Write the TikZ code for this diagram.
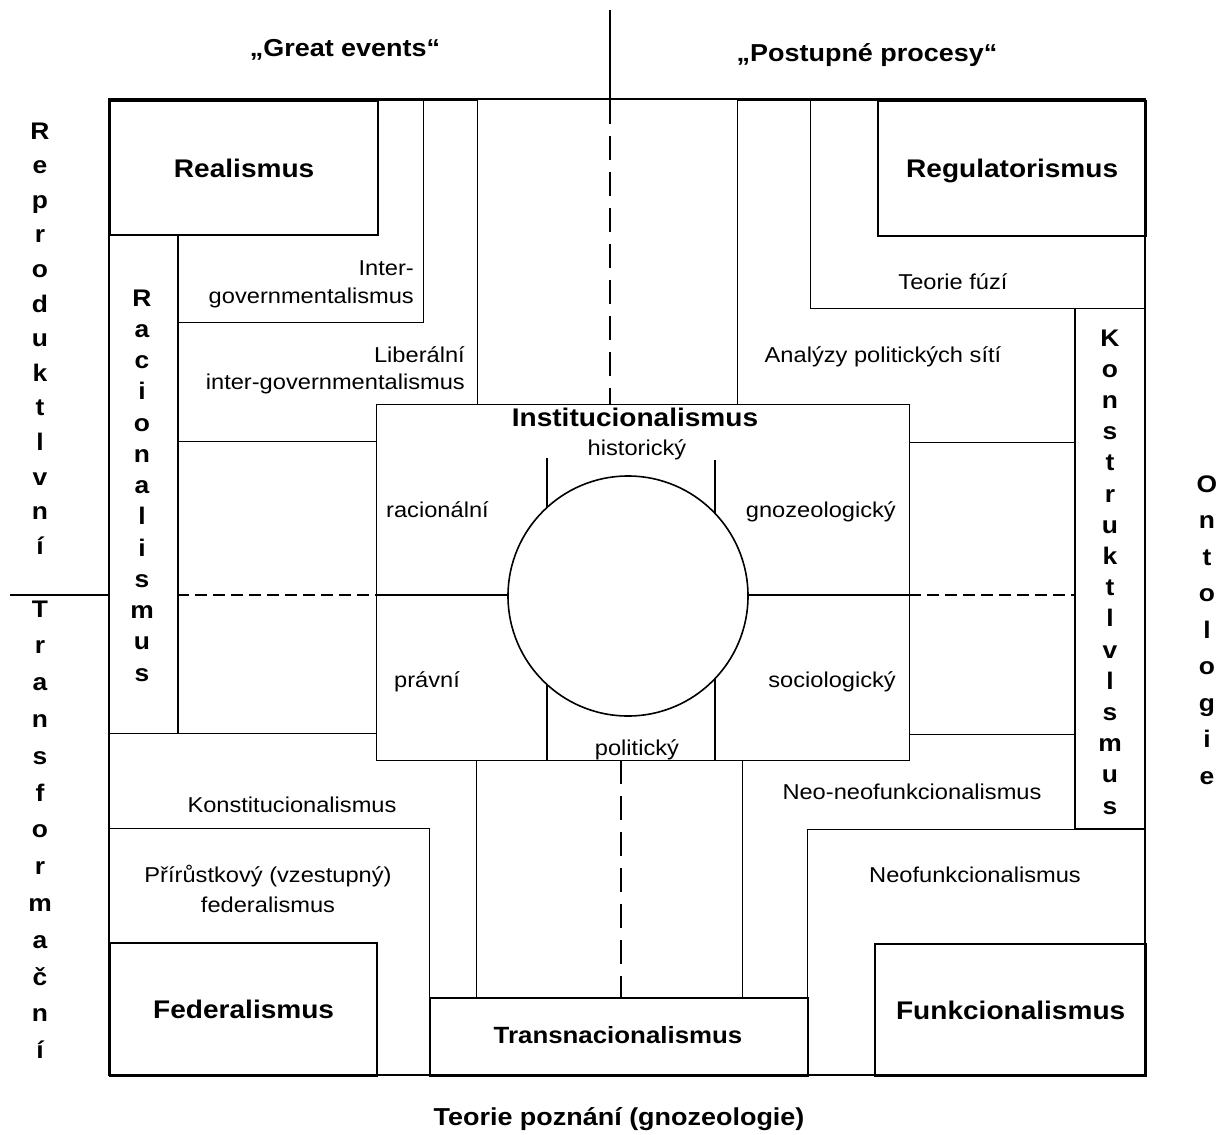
\documentclass[tikz,border=0pt]{standalone}
\usepackage{fontspec}
\setmainfont{Liberation Sans}[FakeStretch=1.1]
\begin{document}
\begin{tikzpicture}[x=1pt,y=-1pt,
  ln/.style={line width=1.3pt},
  thk/.style={line width=2.3pt},
  region/.style={draw, ln, fill=white, inner sep=0pt, anchor=north west},
  tbox/.style={draw, thk, fill=white, inner sep=0pt, anchor=north west},
  hdash/.style={ln, dash pattern=on 12pt off 6pt},
  vdash/.style={ln, dash pattern=on 24pt off 12pt},
  reg/.style={inner sep=0pt, font=\fontsize{21.5}{24}\selectfont, text height=15.4pt, text depth=0pt},
  ttl/.style={inner sep=0pt, font=\bfseries\fontsize{25.5}{28}\selectfont, text height=18.3pt, text depth=0pt},
  ttlsm/.style={inner sep=0pt, font=\bfseries\fontsize{23.5}{26}\selectfont, text height=16.8pt, text depth=0pt},
  axis/.style={inner sep=0pt, font=\bfseries\fontsize{24.5}{27}\selectfont, text height=17.5pt, text depth=0pt},
  vlet/.style={inner sep=0pt, anchor=base, font=\bfseries\fontsize{24}{26}\selectfont}
]
\useasboundingbox[fill=white] (0,0) rectangle (1221,1135);

% --- outer L-shaped regions ---
\node[region, minimum width=368pt, minimum height=341pt] (liberal) at (109,100) {};
\node[region, minimum width=314pt, minimum height=222pt] (intergov) at (109,100) {};
\node[region, minimum width=408pt, minimum height=342pt] (analyzy) at (737,100) {};
\node[region, minimum width=335pt, minimum height=208pt] (fuzi) at (810,100) {};
\node[region, minimum width=367pt, minimum height=342pt] (konstit) at (109,733) {};
\node[region, minimum width=403pt, minimum height=341pt] (neoneo) at (742,734) {};
\node[region, minimum width=320pt, minimum height=247pt] (prirust) at (109,828) {};
\node[region, minimum width=338pt, minimum height=246pt] (neofunk) at (807,829) {};

% --- dashed axes inside frame ---
\coordinate (dlw) at (177,595);
\coordinate (dle) at (376,595);
\coordinate (drw) at (909,595);
\coordinate (dre) at (1075,595);
\coordinate (dtn) at (610,100);
\coordinate (dts) at (610,404);
\coordinate (dbn) at (621,760);
\coordinate (dbs) at (621,997);
\draw[hdash] (dlw) -- (dle);
\draw[hdash] (drw) -- (dre);
\draw[vdash] (dtn) -- (dts);
\draw[vdash] (dbn) -- (dbs);

% --- columns ---
\node[region, minimum width=68pt, minimum height=499pt] (racio) at (109,234) {};
\draw[thk] (racio.north east) -- (racio.south east);
\node[region, minimum width=70pt, minimum height=520pt] (konstr) at (1075,308) {};
\draw[thk] (konstr.north west) -- (konstr.south west);

% --- thick boxes ---
\node[tbox, minimum width=268pt, minimum height=134pt] (realismus) at (109,100) {};
\node[tbox, minimum width=268pt, minimum height=135pt] (regul) at (877,100) {};
\node[tbox, minimum width=267pt, minimum height=133pt] (federal) at (109,942) {};
\node[tbox, minimum width=271pt, minimum height=132pt] (funkc) at (874,943) {};
\node[tbox, minimum width=378pt, minimum height=78pt] (transn) at (429,997) {};

% --- Institucionalismus box ---
\node[region, minimum width=533pt, minimum height=356pt] (inst) at (376,404) {};
\coordinate (ihw) at (376,595);
\coordinate (ihe) at (909,595);
\coordinate (iv1n) at (547,458);
\coordinate (iv1s) at (547,760);
\coordinate (iv2n) at (715,460);
\coordinate (iv2s) at (715,760);
\draw[ln] (ihw) -- (ihe);
\draw[ln] (iv1n) -- (iv1s);
\draw[ln] (iv2n) -- (iv2s);
\node[draw, line width=1.6pt, fill=white, circle, minimum size=240pt, inner sep=0pt] (circ) at (628,596) {};

% --- outer frame and outer axes ---
\draw[line width=1.8pt] (109,99) rectangle (1145,1075);
\coordinate (axl) at (10,595);
\coordinate (axt) at (610,10);
\draw[ln] (axl) -- (racio.west |- axl);
\draw[ln] (axt) -- (dtn);

% --- texts ---
\node[ttl] (t-real) at (realismus.center) {Realismus};
\node[ttl] (t-regul) at (regul.center) {Regulatorismus};
\node[ttl] (t-fed) at (federal.center) {Federalismus};
\node[ttl] (t-funkc) at (funkc.center) {Funkcionalismus};
\node[ttlsm] (t-trans) at (618,1035) {Transnacionalismus};
\node[ttl] (t-inst) at (635,417) {Institucionalismus};

\node[reg, anchor=east] (t-inter1) at (414,268) {Inter-};
\node[reg, anchor=east] (t-inter2) at (414,296) {governmentalismus};
\node[reg, anchor=east] (t-lib1) at (465,355) {Liberální};
\node[reg, anchor=east] (t-lib2) at (465,382) {inter-governmentalismus};
\node[reg] (t-fuzi) at (953,282) {Teorie fúzí};
\node[reg] (t-anal) at (883,355) {Analýzy politických sítí};
\node[reg] (t-hist) at (637,448) {historický};
\node[reg, anchor=west] (t-rac) at (386,510) {racionální};
\node[reg, anchor=east] (t-gnoz) at (896,510) {gnozeologický};
\node[reg, anchor=west] (t-prav) at (394,680) {právní};
\node[reg, anchor=east] (t-soc) at (896,680) {sociologický};
\node[reg] (t-pol) at (637,748) {politický};
\node[reg] (t-konst) at (292,805) {Konstitucionalismus};
\node[reg] (t-pri1) at (268,875) {Přírůstkový (vzestupný)};
\node[reg] (t-pri2) at (268,905) {federalismus};
\node[reg] (t-neoneo) at (912,792) {Neo-neofunkcionalismus};
\node[reg] (t-neof) at (975,875) {Neofunkcionalismus};

\node[axis] (t-great) at (345,48) {„Great events“};
\node[axis] (t-post) at (867,53) {„Postupné procesy“};
\node[axis] (t-teor) at (619,1117) {Teorie poznání (gnozeologie)};

% --- vertical letter stacks ---
\foreach \ch [count=\i] in {R,e,p,r,o,d,u,k,t,l,v,n,í}
  \node[vlet] (rep-\i) at (40,139+34.6*\i-34.6) {\ch};
\foreach \ch [count=\i] in {T,r,a,n,s,f,o,r,m,a,č,n,í}
  \node[vlet] (tra-\i) at (40,617+36.8*\i-36.8) {\ch};
\foreach \ch [count=\i] in {O,n,t,o,l,o,g,i,e}
  \node[vlet] (ont-\i) at (1207,492+36.5*\i-36.5) {\ch};
\foreach \ch [count=\i] in {R,a,c,i,o,n,a,l,i,s,m,u,s}
  \node[vlet] (rac-\i) at (142,306+31.25*\i-31.25) {\ch};
\foreach \ch [count=\i] in {K,o,n,s,t,r,u,k,t,l,v,l,s,m,u,s}
  \node[vlet] (kon-\i) at (1110,346+31.2*\i-31.2) {\ch};
\end{tikzpicture}
\end{document}
